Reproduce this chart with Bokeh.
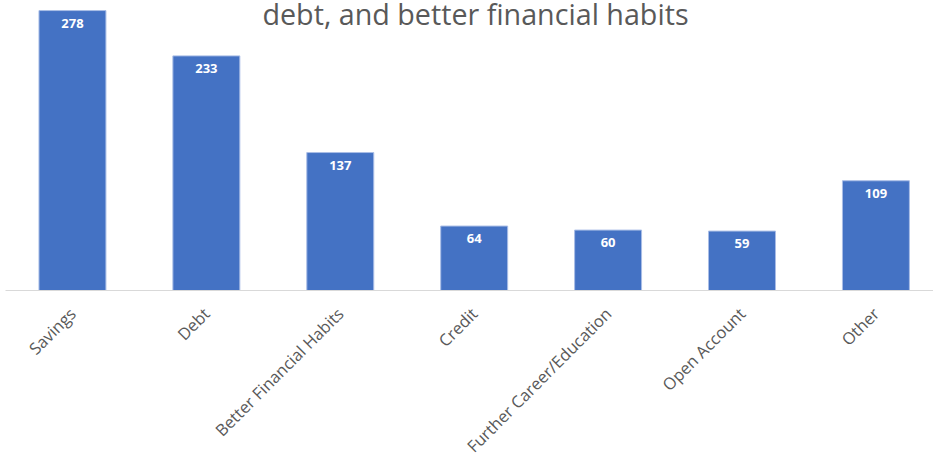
from bokeh.plotting import figure
from bokeh.models import ColumnDataSource, Range1d, FixedTicker, LabelSet, Label
from bokeh.core.properties import value
from bokeh.embed import file_html
from bokeh.resources import INLINE
import math

categories = ["Savings", "Debt", "Better Financial Habits", "Credit",
              "Further Career/Education", "Open Account", "Other"]
counts = [278, 233, 137, 64, 60, 59, 109]
title_text = "debt, and better financial habits"

xpos = [i + 0.5 for i in range(len(categories))]
src = ColumnDataSource(dict(x=xpos, top=counts, lbl=[str(c) for c in counts]))

p = figure(frame_width=928, frame_height=290, output_backend="svg",
           toolbar_location=None, x_range=Range1d(0, 6.93), y_range=Range1d(0, 288),
           y_axis_location=None, min_border_left=5, min_border_right=0,
           min_border_top=0, min_border_bottom=0)
p.outline_line_color = None
p.grid.visible = False
p.background_fill_color = "white"
p.border_fill_color = "white"

p.vbar(x="x", top="top", width=0.5, bottom=0, source=src,
       fill_color="#4472C4", line_color="#a9bde6", line_width=1)

labels = LabelSet(x="x", y="top", text="lbl", source=src, y_offset=-8,
                  text_align="center", text_baseline="top", text_color="white",
                  text_font=value("Open Sans"), text_font_style="bold",
                  text_font_size="13px")
p.add_layout(labels)

ax = p.xaxis[0]
ax.ticker = FixedTicker(ticks=xpos)
ax.major_label_overrides = {x: c for x, c in zip(xpos, categories)}
ax.major_label_orientation = math.pi / 4
ax.major_label_text_font = "Open Sans"
ax.major_label_text_font_size = "16.5px"
ax.major_label_text_color = "#595959"
ax.major_tick_line_color = None
ax.minor_tick_line_color = None
ax.axis_line_color = "#D9D9D9"
ax.major_label_standoff = 14

title = Label(x=470, y=277, x_units="screen", y_units="screen", text=title_text,
              text_align="center", text_baseline="alphabetic", text_color="#595959",
              text_font="Open Sans", text_font_size="28.7px")
p.add_layout(title)

open("out.html", "w").write(file_html(p, INLINE))
